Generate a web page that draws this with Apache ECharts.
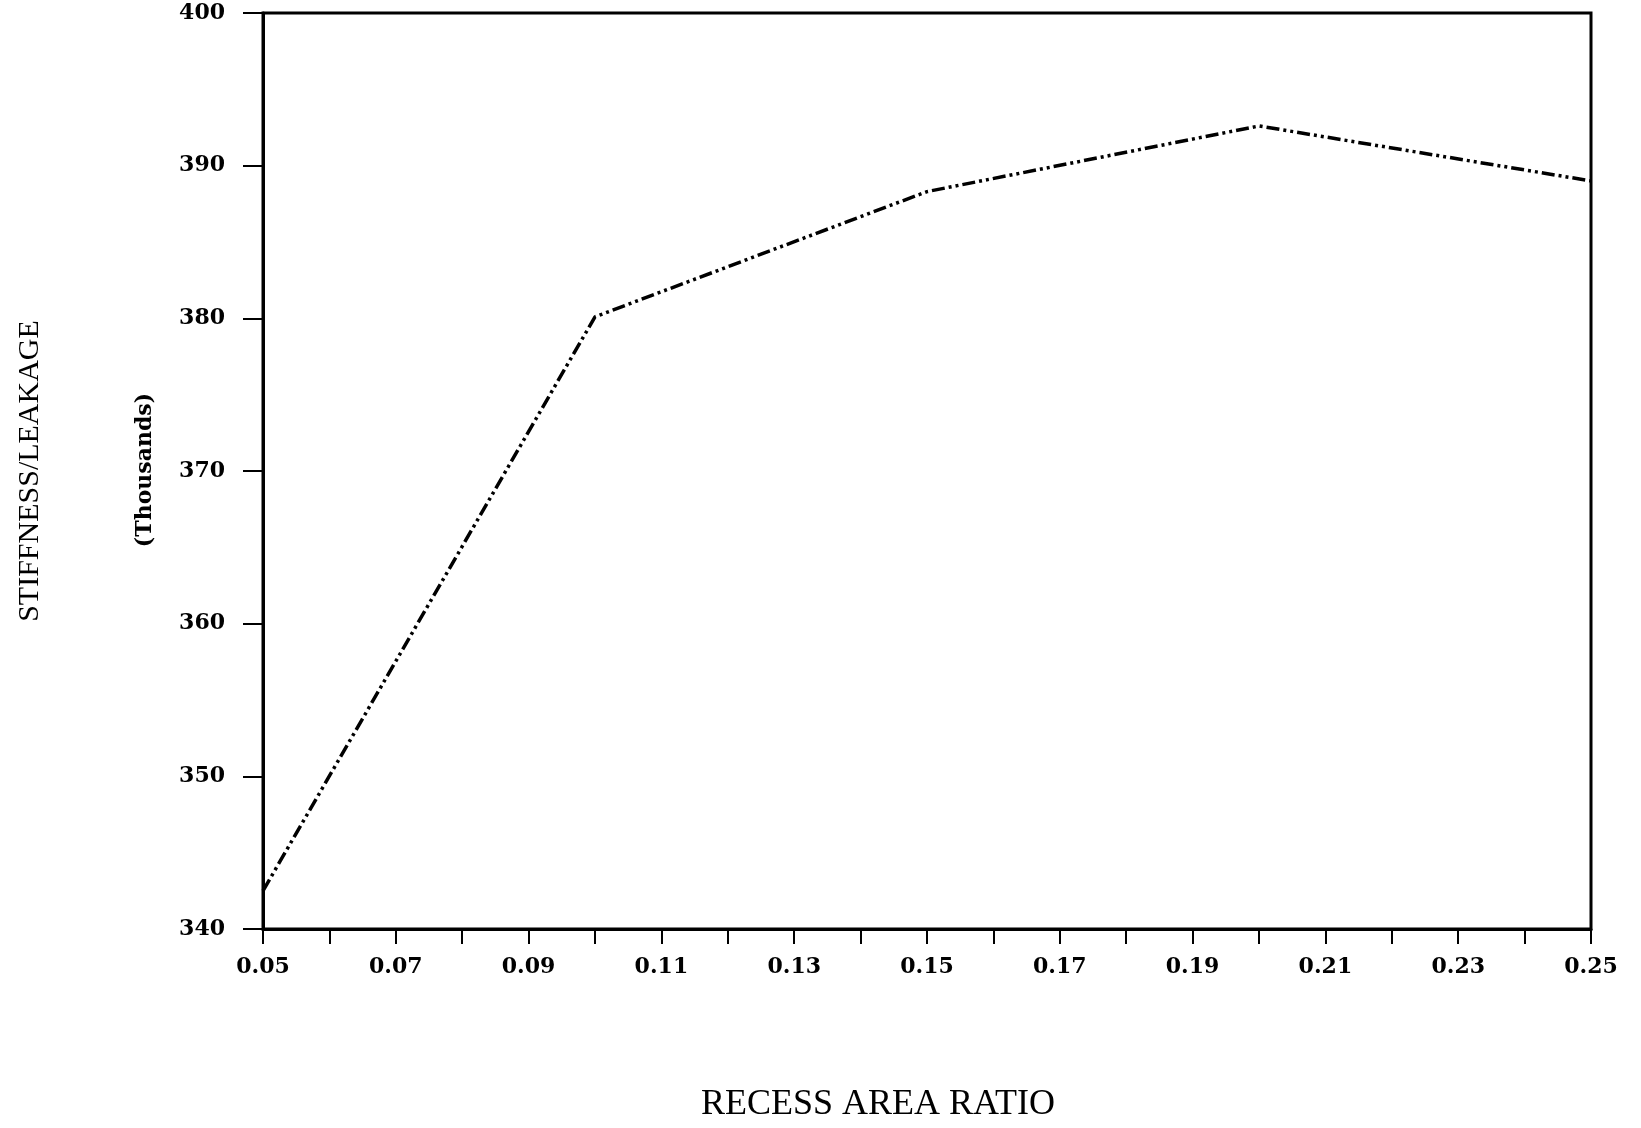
<!DOCTYPE html>
<html>
<head>
<meta charset="utf-8">
<script src="https://cdn.jsdelivr.net/npm/echarts@6/dist/echarts.min.js"></script>
<style>html,body{margin:0;padding:0;background:#fff;}#c{width:1641px;height:1128px;}</style>
</head>
<body>
<div id="c"></div>
<script>
const xValues = [0.05, 0.10, 0.15, 0.20, 0.25];
const yValues = [342.5, 380.1, 388.3, 392.6, 389.0];
const xTitle = 'RECESS AREA RATIO';
const yTitle = 'STIFFNESS/LEAKAGE';
const yUnit = '(Thousands)';

const chart = echarts.init(document.getElementById('c'), null, {renderer: 'canvas'});
const labelFont = {fontFamily: 'DejaVu Serif', fontWeight: 'bold', fontSize: 22, color: '#000'};
chart.setOption({
  backgroundColor: '#fff',
  animation: false,
  grid: {left: 263, right: 50, top: 13, bottom: 199, show: true, borderColor: '#000', borderWidth: 3, backgroundColor: 'transparent'},
  xAxis: {
    type: 'value', min: 0.05, max: 0.25, interval: 0.01,
    axisLine: {lineStyle: {color: '#000', width: 3}},
    axisTick: {show: true, inside: false, length: 15, lineStyle: {color: '#000', width: 2}},
    splitLine: {show: false},
    axisLabel: Object.assign({margin: 27, formatter: (v, i) => {
      const k = Math.round(v * 100);
      return (k % 2 === 1) ? (k / 100).toFixed(2) : '';
    }}, labelFont)
  },
  yAxis: {
    type: 'value', min: 340, max: 400, interval: 10,
    axisLine: {lineStyle: {color: '#000', width: 3}},
    axisTick: {show: true, inside: false, length: 20, lineStyle: {color: '#000', width: 2}},
    splitLine: {show: false},
    axisLabel: Object.assign({margin: 38}, labelFont)
  },
  series: [{
    type: 'line',
    data: xValues.map((x, i) => [x, yValues[i]]),
    symbol: 'none',
    lineStyle: {color: '#000', width: 3.5, type: [13, 4, 3, 4, 3, 4]}
  }],
  graphic: [
    {type: 'text', x: 878, y: 1105, style: {text: xTitle, font: '36px "Liberation Serif"', fill: '#000', textAlign: 'center', textVerticalAlign: 'middle'}},
    {type: 'text', x: 30, y: 471, rotation: Math.PI / 2, style: {text: yTitle, font: '30px "Liberation Serif"', fill: '#000', textAlign: 'center', textVerticalAlign: 'middle'}},
    {type: 'text', x: 145, y: 470, rotation: Math.PI / 2, style: {text: yUnit, font: 'bold 22px "DejaVu Serif"', fill: '#000', textAlign: 'center', textVerticalAlign: 'middle'}}
  ]
});
</script>
</body>
</html>
